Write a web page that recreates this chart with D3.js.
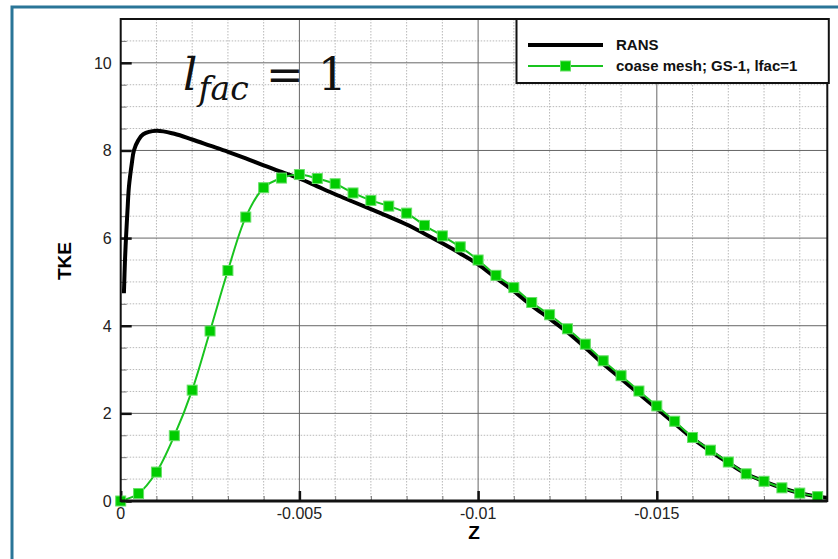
<!doctype html>
<html lang="en">
  <head>
    <meta charset="utf-8" />
    <title>TKE vs Z</title>
    <style>
      body { margin: 0; background: #fff; }
      svg text { font-family: "Liberation Sans", Arial, sans-serif; }
    </style>
  </head>
  <body>
    <div id="chart"></div>
    <script src="https://cdn.jsdelivr.net/npm/d3@7"></script>
    <script>
// data
var ransZ   = [-0.00009, -0.00012, -0.00015, -0.00019, -0.00023, -0.00031, -0.00037, -0.00049, -0.00063, -0.001, -0.0015,
               -0.002, -0.0025, -0.003, -0.0035, -0.004, -0.0045, -0.005, -0.0055, -0.006, -0.0065, -0.007, -0.0075,
               -0.008, -0.0085, -0.009, -0.0095, -0.01, -0.0105, -0.011, -0.0115, -0.012, -0.0125, -0.013, -0.0135,
               -0.014, -0.0145, -0.015, -0.0155, -0.016, -0.0165, -0.017, -0.0175, -0.018, -0.0185, -0.019, -0.0195, -0.0198];
var ransTKE = [4.74, 5.5, 6.03, 6.63, 7.17, 7.7, 8.0, 8.23, 8.37, 8.45, 8.38,
               8.25, 8.11, 7.97, 7.82, 7.66, 7.51, 7.36, 7.18, 7.0, 6.83, 6.66, 6.49,
               6.31, 6.1, 5.88, 5.65, 5.4, 5.09, 4.79, 4.46, 4.16, 3.85, 3.5, 3.13,
               2.79, 2.45, 2.11, 1.77, 1.43, 1.14, 0.87, 0.62, 0.45, 0.3, 0.18, 0.1, 0.07];

var gsZ   = [0, -0.0005, -0.001, -0.0015, -0.002, -0.0025, -0.003, -0.0035, -0.004, -0.0045, -0.005,
             -0.0055, -0.006, -0.0065, -0.007, -0.0075, -0.008, -0.0085, -0.009, -0.0095, -0.01,
             -0.0105, -0.011, -0.0115, -0.012, -0.0125, -0.013, -0.0135, -0.014, -0.0145, -0.015,
             -0.0155, -0.016, -0.0165, -0.017, -0.0175, -0.018, -0.0185, -0.019, -0.0195];
var gsTKE = [0.0, 0.17, 0.66, 1.49, 2.53, 3.88, 5.26, 6.48, 7.15, 7.37, 7.45,
             7.36, 7.24, 7.03, 6.86, 6.73, 6.57, 6.29, 6.05, 5.8, 5.5,
             5.15, 4.87, 4.53, 4.25, 3.93, 3.58, 3.2, 2.86, 2.51, 2.17,
             1.82, 1.45, 1.16, 0.89, 0.62, 0.45, 0.3, 0.18, 0.1];

var xTicks = [0, -0.005, -0.01, -0.015];
var xTickLabels = ["0", "-0.005", "-0.01", "-0.015"];
var yTicks = [0, 2, 4, 6, 8, 10];
var seriesNames = ["RANS", "coase mesh; GS-1, lfac=1"];

var W = 838, H = 559;
var pL = 120.7, pR = 827.3, pT = 19, pB = 501;

var svg = d3.select("#chart").append("svg")
    .attr("width", W)
    .attr("height", H);

// outer blue frame (cropped slide border)
svg.append("path")
    .attr("d", "M12," + H + "V7H" + W)
    .attr("fill", "none")
    .attr("stroke", "#2a7597")
    .attr("stroke-width", 3);

var x = d3.scaleLinear().domain([0, -0.01977]).range([pL, pR]);
var y = d3.scaleLinear().domain([0, 11]).range([pB, pT]);

svg.append("clipPath").attr("id", "clip")
  .append("rect")
    .attr("x", pL).attr("y", pT)
    .attr("width", pR - pL).attr("height", pB - pT);

// minor grid every 0.001 in z and 0.5 in TKE
var xMinor = d3.range(1, 20).filter(function(i) { return i % 5 !== 0; }).map(function(i) { return -i * 0.001; });
var yMinor = d3.range(1, 22).filter(function(i) { return i % 4 !== 0; }).map(function(i) { return i * 0.5; });

var grid = svg.append("g");
grid.selectAll(".xmin").data(xMinor).enter().append("line")
    .attr("x1", function(d) { return x(d); }).attr("x2", function(d) { return x(d); })
    .attr("y1", pT).attr("y2", pB)
    .attr("stroke", "#b8b8b8").attr("stroke-dasharray", "1.5,1.5");
grid.selectAll(".ymin").data(yMinor).enter().append("line")
    .attr("x1", pL).attr("x2", pR)
    .attr("y1", function(d) { return y(d); }).attr("y2", function(d) { return y(d); })
    .attr("stroke", "#b8b8b8").attr("stroke-dasharray", "1.5,1.5");
// major grid
grid.selectAll(".xmaj").data(xTicks.slice(1)).enter().append("line")
    .attr("x1", function(d) { return x(d); }).attr("x2", function(d) { return x(d); })
    .attr("y1", pT).attr("y2", pB)
    .attr("stroke", "#666").attr("stroke-width", 1);
grid.selectAll(".ymaj").data(yTicks.slice(1)).enter().append("line")
    .attr("x1", pL).attr("x2", pR)
    .attr("y1", function(d) { return y(d); }).attr("y2", function(d) { return y(d); })
    .attr("stroke", "#666").attr("stroke-width", 1);

// annotation  l_fac = 1
var ann = svg.append("text")
    .attr("x", 183).attr("y", 90)
    .style("font-family", "'DejaVu Serif', 'Liberation Serif', serif")
    .style("font-size", "45px")
    .attr("fill", "#111");
ann.append("tspan").text("l").style("font-style", "italic");
ann.append("tspan").text("fac").attr("dy", 10).attr("dx", 1)
    .style("font-style", "italic").style("font-size", "33px");
ann.append("tspan").text(" = 1").attr("dy", -10).attr("dx", 3);

// axis ticks, drawn inward
var xAxis = d3.axisTop(x).tickValues(xTicks).tickSize(10).tickFormat("");
var xAxisMinor = d3.axisTop(x).tickValues(xMinor).tickSize(5).tickFormat("");
var yAxis = d3.axisRight(y).tickValues(yTicks).tickSize(11).tickFormat("");
var yAxisMinor = d3.axisRight(y).tickValues(yMinor).tickSize(6).tickFormat("");

function drawTicks(axis, tr, col, sw) {
  var g = svg.append("g").attr("transform", tr).call(axis);
  g.selectAll(".tick line").attr("stroke", col).attr("stroke-width", sw);
  g.select(".domain").remove();
}
drawTicks(xAxisMinor, "translate(0," + pB + ")", "#777", 1);
drawTicks(xAxis, "translate(0," + pB + ")", "#111", 2.5);
drawTicks(yAxisMinor, "translate(" + pL + ",0)", "#777", 1);
drawTicks(yAxis, "translate(" + pL + ",0)", "#111", 2.5);

// tick labels
svg.append("g").selectAll("text").data(xTicks).enter().append("text")
    .attr("x", function(d) { return x(d); })
    .attr("y", pB + 18)
    .attr("text-anchor", "middle")
    .style("font-size", "16px")
    .attr("fill", "#222")
    .text(function(d, i) { return xTickLabels[i]; });
svg.append("g").selectAll("text").data(yTicks).enter().append("text")
    .attr("x", pL - 9)
    .attr("y", function(d) { return y(d) + 6; })
    .attr("text-anchor", "end")
    .style("font-size", "16px")
    .attr("fill", "#222")
    .text(function(d) { return d; });

// axis titles
svg.append("text")
    .attr("x", 474).attr("y", 539)
    .attr("text-anchor", "middle")
    .style("font-size", "19px").style("font-weight", "bold")
    .text("Z");
svg.append("text")
    .attr("transform", "translate(71,261) rotate(-90)")
    .attr("text-anchor", "middle")
    .style("font-size", "19px").style("font-weight", "bold")
    .text("TKE");

// series
var plot = svg.append("g").attr("clip-path", "url(#clip)");
var rans = ransZ.map(function(z, i) { return [z, ransTKE[i]]; });
var gs = gsZ.map(function(z, i) { return [z, gsTKE[i]]; });

var line = d3.line()
    .x(function(d) { return x(d[0]); })
    .y(function(d) { return y(d[1]); })
    .curve(d3.curveCatmullRom);

plot.append("path")
    .datum(rans)
    .attr("d", line)
    .attr("fill", "none")
    .attr("stroke", "#000")
    .attr("stroke-width", 4)
    .attr("stroke-linejoin", "round");

plot.append("path")
    .datum(gs)
    .attr("d", line)
    .attr("fill", "none")
    .attr("stroke", "#19c41f")
    .attr("stroke-width", 2);

var ms = 10;
svg.append("g").selectAll("rect").data(gs).enter().append("rect")
    .attr("x", function(d) { return x(d[0]) - ms / 2; })
    .attr("y", function(d) { return y(d[1]) - ms / 2; })
    .attr("width", ms).attr("height", ms)
    .attr("fill", "#00cc00")
    .attr("stroke", "#66e066")
    .attr("stroke-width", 1);

// plot frame
svg.append("rect")
    .attr("x", pL).attr("y", pT)
    .attr("width", pR - pL).attr("height", pB - pT)
    .attr("fill", "none")
    .attr("stroke", "#111")
    .attr("stroke-width", 2);
svg.append("line")
    .attr("x1", pL).attr("x2", pR).attr("y1", pB).attr("y2", pB)
    .attr("stroke", "#111").attr("stroke-width", 3);

// legend
var lg = svg.append("g");
lg.append("rect")
    .attr("x", 516.5).attr("y", pT)
    .attr("width", pR - 516.5 + 1.5).attr("height", 64)
    .attr("fill", "#fff")
    .attr("stroke", "#111")
    .attr("stroke-width", 2);
lg.append("line")
    .attr("x1", 528).attr("x2", 603).attr("y1", 45).attr("y2", 45)
    .attr("stroke", "#000").attr("stroke-width", 4);
lg.append("line")
    .attr("x1", 528).attr("x2", 603).attr("y1", 66).attr("y2", 66)
    .attr("stroke", "#19c41f").attr("stroke-width", 2);
lg.append("rect")
    .attr("x", 565.5 - ms / 2).attr("y", 66 - ms / 2)
    .attr("width", ms).attr("height", ms)
    .attr("fill", "#00cc00").attr("stroke", "#66e066");
lg.selectAll("text.lab").data(seriesNames).enter().append("text")
    .attr("x", 616)
    .attr("y", function(d, i) { return 50 + i * 21; })
    .style("font-size", "15px").style("font-weight", "bold")
    .attr("fill", "#111")
    .text(function(d) { return d; });
    </script>
  </body>
</html>
